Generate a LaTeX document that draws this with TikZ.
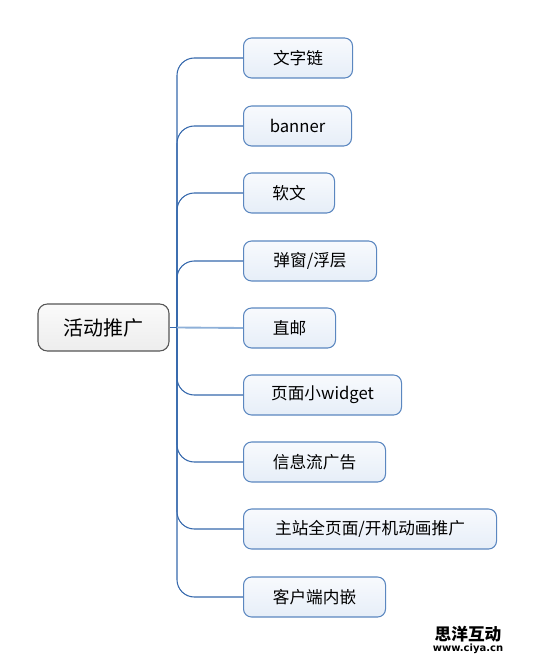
\documentclass[tikz,border=0pt]{standalone}
\usepackage{fontspec}
\setmainfont{Noto Sans CJK SC}
\newfontfamily\markfont{DejaVu Sans}
\usetikzlibrary{positioning}
\definecolor{trunkblue}{HTML}{3568AC}
\definecolor{lightline}{HTML}{8EB0D8}
\definecolor{topicline}{HTML}{5B87C0}
\definecolor{topictop}{HTML}{F8FAFD}
\definecolor{topicbot}{HTML}{E6EEF8}
\definecolor{rootline}{HTML}{555555}
\definecolor{roottop}{HTML}{FAFAFA}
\definecolor{rootbot}{HTML}{EDEDED}
\tikzset{%
  rootbox/.style  = {draw=rootline, line width=0.8pt, rounded corners=7pt,
    top color=roottop, bottom color=rootbot, minimum height=35.25pt,
    minimum width=98.25pt, inner sep=0pt, font=\fontsize{15}{18}\selectfont},
  topic/.style    = {draw=topicline, line width=0.8pt, rounded corners=6pt,
    top color=topictop, bottom color=topicbot, anchor=west,
    minimum height=30pt, inner sep=0pt, font=\fontsize{12.5}{15}\selectfont}, % child
  branch/.style   = {draw=trunkblue, line width=0.8pt, rounded corners=13pt}
}

\begin{document}
\begin{tikzpicture}[x=0.75pt, y=-0.75pt]
  \useasboundingbox (0,0) rectangle (535,656);

  \node[rootbox] (root) at (103.5,327.5) {活动推广};
  \coordinate (hub) at (177,327.5);

  \node[topic, minimum width=81.75pt] (wenzi) at (243,58) {文字链};
  \node[topic, minimum width=81pt] (banner) at (243,126) {banner};
  \node[topic, minimum width=68.25pt] (ruanwen) at (243,193) {软文};
  \node[topic, minimum width=99.75pt] (tanchuang) at (243,261) {弹窗/浮层};
  \node[topic, minimum width=69pt] (zhiyou) at (243,328) {直邮};
  \node[topic, minimum width=118.5pt] (widget) at (243,395) {页面小widget};
  \node[topic, minimum width=106.5pt] (xinxi) at (243,462) {信息流广告};
  \node[topic, minimum width=189.75pt] (zhuzhan) at (243,529) {主站全页面/开机动画推广};
  \node[topic, minimum width=106.5pt] (kehu) at (243,597) {客户端内嵌};

  % branches
  \foreach \t in {wenzi, banner, ruanwen, tanchuang, widget, xinxi, zhuzhan, kehu}
    \draw[branch] (hub) |- (\t.west);
  \draw[draw=trunkblue, line width=0.8pt] (root.east) -- (hub);
  \draw[draw=lightline, line width=1.4pt] (hub) -- (zhiyou.west);

  % watermark
  \node[font=\fontsize{12.5}{13}\selectfont\bfseries, inner sep=0pt] (mark) at (468,634) {思洋互动};
  \node[font=\markfont\fontsize{7.5}{8}\selectfont\bfseries, inner sep=0pt, below=1pt of mark] (url) {www.ciya.cn};
\end{tikzpicture}
\end{document}
